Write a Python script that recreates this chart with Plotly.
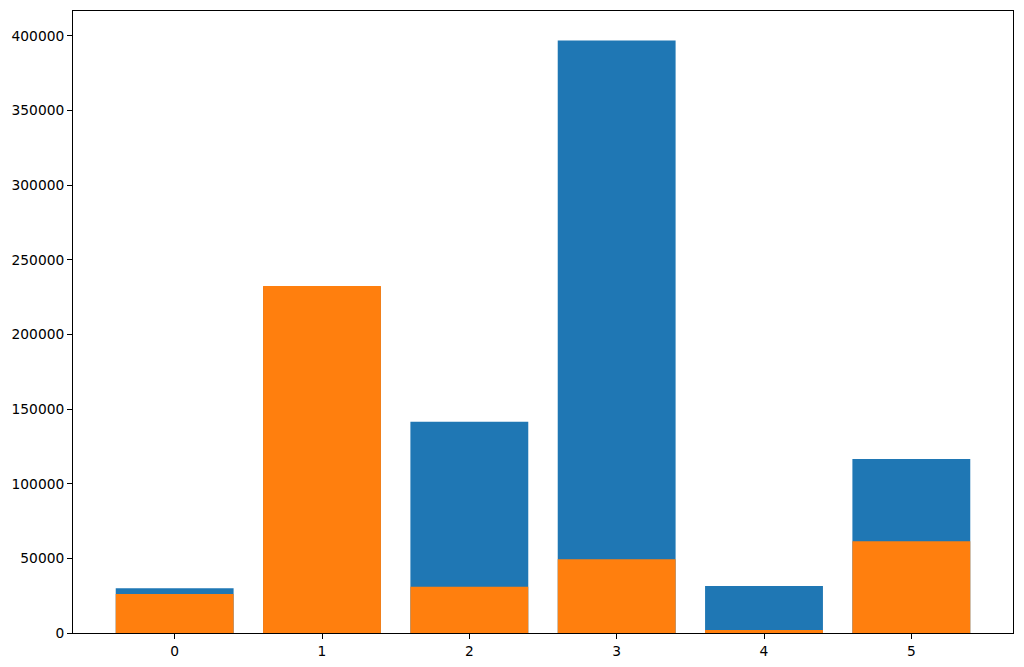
import plotly.graph_objects as go

categories = [0, 1, 2, 3, 4, 5]
blue_values = [29950, 232000, 141580, 396900, 31490, 116580]
orange_values = [26130, 232500, 31030, 49380, 2010, 61420]
y_ticks = [0, 50000, 100000, 150000, 200000, 250000, 300000, 350000, 400000]

fig = go.Figure()
fig.add_trace(go.Bar(x=categories, y=blue_values, width=0.8,
                     marker=dict(color="#1f77b4", line=dict(width=0))))
fig.add_trace(go.Bar(x=categories, y=orange_values, width=0.8,
                     marker=dict(color="#ff7f0e", line=dict(width=0))))

ymax = max(blue_values + orange_values) * 1.05
fig.update_layout(
    width=1024, height=667,
    margin=dict(l=73, r=11, t=11, b=34, autoexpand=False),
    barmode="overlay",
    showlegend=False,
    plot_bgcolor="white", paper_bgcolor="white",
    font=dict(family="DejaVu Sans", size=13.8, color="black"),
    xaxis=dict(range=[-0.69, 5.69], tickvals=categories, ticktext=[str(c) for c in categories],
               showgrid=False, zeroline=False, showline=True, linecolor="black", linewidth=1,
               mirror=True, ticks="outside", ticklen=5, tickcolor="black", automargin=False),
    yaxis=dict(range=[0, ymax], tickvals=y_ticks, ticktext=[str(v) for v in y_ticks],
               showgrid=False, zeroline=False, showline=True, linecolor="black", linewidth=1,
               mirror=True, ticks="outside", ticklen=5, tickcolor="black", automargin=False),
)
fig.write_html("out.html", config={"displayModeBar": False},
               post_script="document.body.style.margin='0px';document.body.style.overflow='hidden';")
